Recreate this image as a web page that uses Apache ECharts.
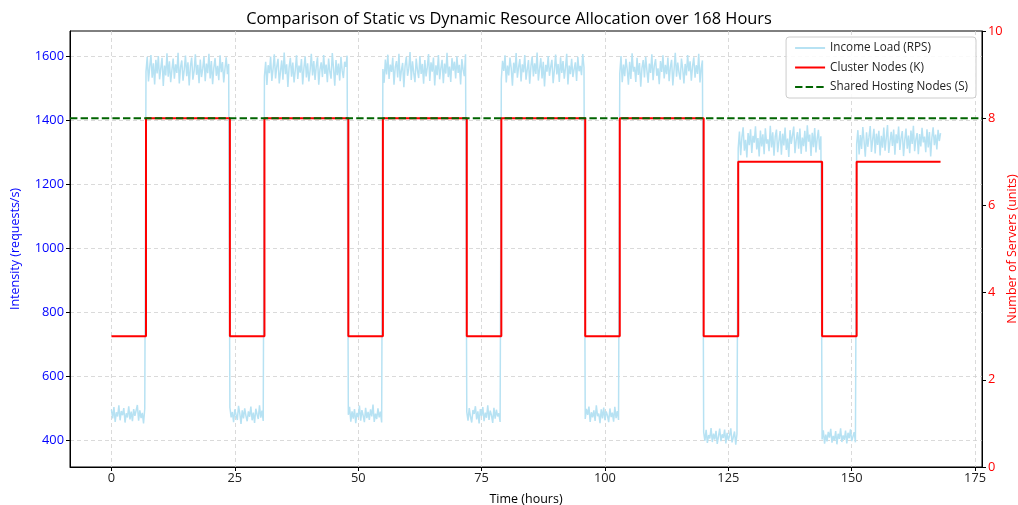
<!DOCTYPE html>
<html>
<head>
<meta charset="utf-8">
<script src="https://cdn.jsdelivr.net/npm/echarts@6/dist/echarts.min.js"></script>
<style>html,body{margin:0;padding:0;background:#fff}#c{width:1018px;height:505px}</style>
</head>
<body>
<div id="c"></div>
<script>
// Income load (RPS), sampled every 0.25 h, one array per day (24 h each)
const sampleStepHours = 0.25;
const loadDay1 = [495,468,503,457,487,474,509,462,491,478,500,455,484,471,506,465,489,459,497,476,482,510,461,493,469,485,452,499,
1552,1598,1521,1567,1604,1533,1578,1512,1589,1546,1601,1528,1563,1595,1507,1571,1540,1609,1536,1584,1519,1557,1593,1530,1575,1548,1611,1515,1566,1587,1524,1559,1602,1538,1581,1509,1569,1596,1527,1554,1606,1542,1573,1516,1590,1535,1562,1599,1522,1577,1547,1608,1531,1585,1513,1564,1594,1539,1570,1525,1603,1550,1582,1518,1561,1597,1544,1576];
const loadDay2 = [502,471,488,456,496,479,463,507,484,451,493,468,499,476,459,490,473,505,462,486,454,498,481,466,509,470,492,460,
1538,1583,1510,1572,1547,1599,1523,1561,1606,1531,1568,1592,1515,1553,1587,1527,1612,1544,1575,1504,1566,1595,1536,1580,1518,1557,1603,1529,1571,1549,1591,1512,1563,1600,1534,1578,1521,1556,1608,1540,1585,1526,1569,1597,1511,1559,1581,1535,1604,1545,1574,1519,1593,1551,1530,1610,1562,1508,1588,1541,1577,1524,1598,1555,1532,1583,1567,1602];
const loadDay3 = [479,504,458,490,467,497,453,485,472,508,461,494,477,456,501,469,488,463,496,474,511,457,483,466,499,471,489,455,
1560,1517,1590,1543,1605,1529,1574,1551,1596,1511,1565,1585,1534,1608,1522,1556,1579,1503,1570,1598,1539,1562,1613,1526,1584,1548,1519,1593,1557,1532,1601,1545,1576,1514,1588,1537,1566,1607,1523,1581,1552,1596,1509,1572,1541,1604,1528,1563,1589,1516,1577,1546,1611,1535,1568,1520,1594,1555,1583,1531,1600,1548,1573,1512,1591,1558,1538,1606];
const loadDay4 = [488,461,500,473,455,494,482,506,465,490,452,497,476,503,459,486,470,509,463,492,478,454,501,467,495,474,484,457,
1529,1586,1554,1603,1518,1571,1540,1596,1563,1508,1580,1547,1610,1533,1566,1591,1521,1575,1550,1604,1527,1559,1588,1514,1569,1599,1537,1578,1545,1612,1524,1561,1594,1531,1583,1506,1573,1552,1601,1539,1567,1589,1516,1557,1605,1543,1576,1520,1597,1548,1585,1530,1564,1608,1512,1571,1544,1592,1535,1560,1581,1523,1598,1553,1570,1541,1607,1565];
const loadDay5 = [466,498,479,505,457,487,471,493,460,509,475,483,453,496,468,502,462,490,477,456,499,472,486,458,504,469,491,463,
1546,1601,1519,1574,1538,1592,1560,1511,1583,1529,1609,1552,1567,1520,1595,1542,1579,1505,1564,1588,1534,1598,1556,1517,1577,1548,1606,1525,1570,1591,1539,1562,1513,1585,1551,1603,1531,1573,1544,1596,1522,1566,1589,1509,1558,1611,1536,1580,1549,1527,1593,1561,1515,1576,1540,1604,1553,1584,1524,1569,1597,1533,1572,1545,1608,1518,1563,1587];
const loadDay6 = [425,398,432,391,416,405,438,394,420,402,429,388,412,436,397,418,407,433,390,423,400,414,437,393,409,427,386,419,
1312,1365,1291,1347,1378,1305,1339,1284,1360,1322,1372,1298,1351,1330,1381,1309,1344,1287,1368,1318,1356,1294,1375,1327,1340,1303,1383,1315,1362,1289,1349,1371,1300,1335,1366,1292,1358,1321,1377,1307,1343,1285,1369,1326,1353,1380,1297,1338,1363,1311,1374,1295,1346,1319,1367,1302,1384,1333,1355,1288,1361,1316,1376,1299,1342,1370,1308,1350];
const loadDay7 = [402,431,389,417,396,426,408,435,392,413,399,428,387,420,404,437,394,415,401,430,390,423,406,434,397,411,425,393,
1325,1369,1293,1354,1310,1379,1336,1286,1362,1317,1347,1382,1301,1340,1373,1296,1358,1323,1367,1290,1351,1314,1377,1305,1344,1385,1298,1333,1364,1320,1371,1292,1356,1328,1380,1307,1345,1366,1288,1338,1374,1311,1352,1297,1368,1326,1383,1303,1341,1360,1294,1357,1318,1376,1331,1349,1300,1372,1315,1363,1287,1346,1378,1322,1355,1309,1370,1335,1360];

// Cluster nodes (K): step changes
const nodeChangeHours = [0,7,24,31,48,55,72,79,96,103,120,127,144,151,168];
const clusterNodes    = [3,8,3,8,3,8,3,8,3,8,3,7,3,7,7];

// Shared hosting nodes (S): constant
const sharedHostingNodes = 8;

// Tick labels
const xTicks = [0,25,50,75,100,125,150,175];
const yLeftTicks = [400,600,800,1000,1200,1400,1600];

const xMin = -8.4, xMax = 176.4;

const loadAll = [].concat(loadDay1, loadDay2, loadDay3, loadDay4, loadDay5, loadDay6, loadDay7);
const loadData = loadAll.map((v, i) => [i * sampleStepHours, v]);
const nodeData = nodeChangeHours.map((h, i) => [h, clusterNodes[i]]);
const sharedData = [[xMin, sharedHostingNodes], [xMax, sharedHostingNodes]];

const FONT = 'Open Sans';
const chart = echarts.init(document.getElementById('c'), null, {renderer: 'canvas'});
const grid = {color: '#d0d0d0', type: [4, 3], width: 0.8};
const plain = v => String(v);
chart.setOption({
  animation: false,
  textStyle: {fontFamily: FONT},
  title: {
    text: 'Comparison of Static vs Dynamic Resource Allocation over 168 Hours',
    left: 'center', top: 6,
    textStyle: {fontFamily: FONT, fontSize: 16.4, fontWeight: 'normal', color: '#000'}
  },
  legend: {
    orient: 'vertical', right: 42, top: 37,
    itemWidth: 30, itemHeight: 10, itemGap: 7.5,
    backgroundColor: 'rgba(255,255,255,0.85)', borderColor: '#cccccc', borderWidth: 1, borderRadius: 3,
    padding: [5, 8, 5, 8],
    itemStyle: {opacity: 0},
    textStyle: {fontFamily: FONT, fontSize: 11.7, color: '#222'},
    data: ['Income Load (RPS)', 'Cluster Nodes (K)', 'Shared Hosting Nodes (S)']
  },
  grid: {left: 70, right: 36, top: 31, bottom: 38, containLabel: false, outerBoundsMode: 'none',
    show: true, borderColor: '#000', borderWidth: 1, backgroundColor: 'transparent'},
  xAxis: {
    type: 'value', min: xMin, max: xMax,
    name: 'Time (hours)', nameLocation: 'middle', nameGap: 26,
    nameTextStyle: {fontFamily: FONT, fontSize: 12.5, color: '#000'},
    axisLine: {show: true, onZero: false, lineStyle: {color: '#000', width: 1}},
    axisTick: {show: true, length: 4, customValues: xTicks, lineStyle: {color: '#000'}},
    axisLabel: {customValues: xTicks, formatter: plain, fontFamily: FONT, fontSize: 12.8, color: '#222', margin: 5},
    splitLine: {show: true, lineStyle: grid}
  },
  yAxis: [{
    type: 'value', min: 316, max: 1679, position: 'left',
    name: 'Intensity (requests/s)', nameLocation: 'middle', nameGap: 48,
    nameTextStyle: {fontFamily: FONT, fontSize: 12.5, color: '#0000ff'},
    axisLine: {show: true, onZero: false, lineStyle: {color: '#000', width: 1}},
    axisTick: {show: true, length: 4, customValues: yLeftTicks, lineStyle: {color: '#000'}},
    axisLabel: {customValues: yLeftTicks, formatter: plain, fontFamily: FONT, fontSize: 12.8, color: '#0000ff', margin: 6},
    splitLine: {show: true, lineStyle: grid}
  }, {
    type: 'value', min: 0, max: 10, interval: 2, position: 'right',
    name: 'Number of Servers (units)', nameLocation: 'middle', nameGap: 24, nameMoveOverlap: false,
    nameTextStyle: {fontFamily: FONT, fontSize: 12.5, color: '#ff0000'},
    axisLine: {show: true, onZero: false, lineStyle: {color: '#000', width: 1}},
    axisTick: {show: true, length: 4, lineStyle: {color: '#000'}},
    axisLabel: {formatter: plain, fontFamily: FONT, fontSize: 12.8, color: '#ff0000', margin: 6},
    splitLine: {show: false}
  }],
  series: [{
    name: 'Income Load (RPS)', type: 'line', yAxisIndex: 0, data: loadData,
    symbol: 'none', lineStyle: {color: '#b7e2f3', width: 1.5}, itemStyle: {color: '#b7e2f3'}, z: 2
  }, {
    name: 'Cluster Nodes (K)', type: 'line', yAxisIndex: 1, data: nodeData, step: 'end',
    symbol: 'none', lineStyle: {color: '#ff0000', width: 2}, itemStyle: {color: '#ff0000'}, z: 3
  }, {
    name: 'Shared Hosting Nodes (S)', type: 'line', yAxisIndex: 1, data: sharedData,
    symbol: 'none', lineStyle: {color: '#006400', width: 2, type: [7.4, 3.2]}, itemStyle: {color: '#006400'}, z: 4
  }]
});
</script>
</body>
</html>
